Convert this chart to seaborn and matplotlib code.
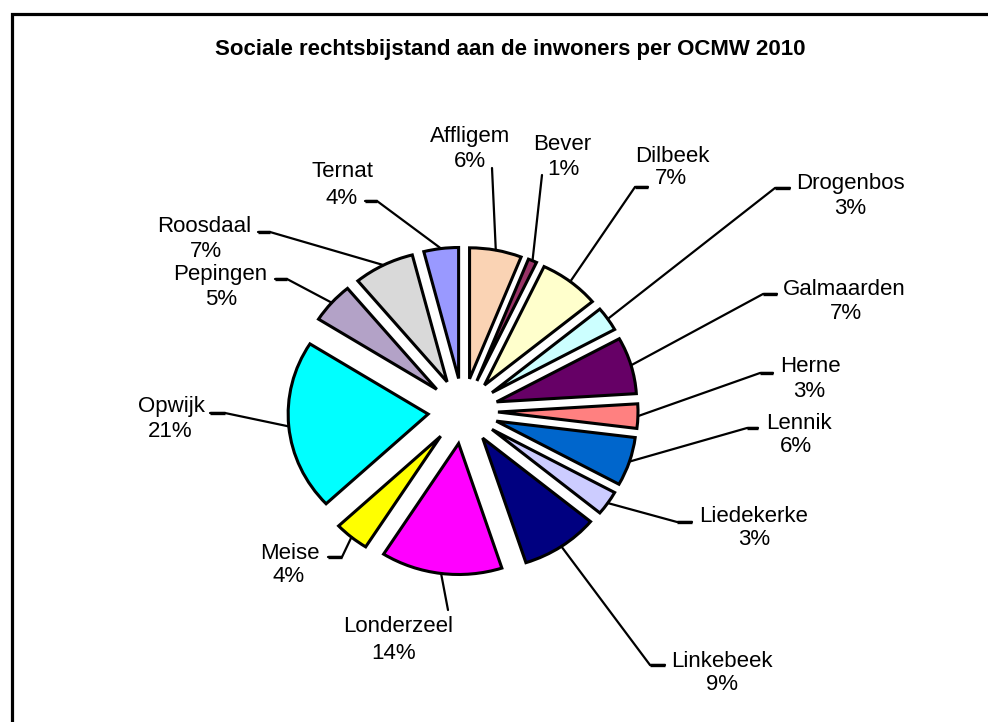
import numpy as np
import matplotlib
matplotlib.use("Agg")
import matplotlib.pyplot as plt
import matplotlib.transforms as mtransforms
from matplotlib.lines import Line2D
import seaborn as sns

# ---------------- data ----------------
gemeenten = ["Affligem", "Bever", "Dilbeek", "Drogenbos", "Galmaarden", "Herne",
             "Lennik", "Liedekerke", "Linkebeek", "Londerzeel", "Meise", "Opwijk",
             "Pepingen", "Roosdaal", "Ternat"]
percentages = [6, 1, 7, 3, 7, 3, 6, 3, 9, 14, 4, 21, 5, 7, 4]
kleuren = ["#FAD3B4", "#993366", "#FFFFCC", "#CCFFFF", "#660066", "#FF8080",
           "#0066CC", "#CCCCFF", "#000080", "#FF00FF", "#FFFF00", "#00FFFF",
           "#B3A2C7", "#D9D9D9", "#9999FF"]
titel = "Sociale rechtsbijstand aan de inwoners per OCMW 2010"

# ---------------- layout (pixel positions, top-left origin) ----------------
W, H = 988, 722
CX, CY = 463, 411          # pie centre
SX, SY = 140, 131          # pixels per unit radius (x, y)
name_pos = [(470, 135), (562, 143), (672, 155), (850, 182), (844, 288), (810, 365),
            (799, 422), (754, 515), (722, 660), (398, 625), (290, 552), (171, 405),
            (220, 273), (204, 225), (342, 170)]
pct_pos = [(470, 160), (563, 168), (671, 177), (850, 207), (846, 312), (809, 390),
           (796, 445), (754, 538), (722, 683), (394, 652), (289, 575), (170, 430),
           (221, 298), (206, 250), (342, 197)]
leader_pts = [[(492, 168)], [(542, 175)], [(635, 187), (648, 187)],
              [(775, 188), (790, 188)], [(763, 294), (777, 294)],
              [(760, 373), (773, 373)], [(747, 428), (758, 428)],
              [(677, 522), (692, 522)], [(650, 665), (665, 665)],
              [(448, 610)], [(342, 557), (328, 557)], [(225, 413), (210, 413)],
              [(287, 279), (275, 279)], [(270, 232), (258, 232)],
              [(377, 201), (365, 201)]]


def to_data(p):
    return ((p[0] - CX) / SX, (CY - p[1]) / SY)


sns.set_theme(style="white")
plt.rcParams["font.family"] = ["Liberation Sans", "DejaVu Sans"]

fig = plt.figure(figsize=(W / 100, H / 100), dpi=100)
fig.patch.set_facecolor("white")
ax = fig.add_axes([0, 0, 1, 1])

wedges, _ = ax.pie(percentages, colors=kleuren, explode=[0.25] * len(percentages),
                   startangle=90, counterclock=False, radius=1.0,
                   wedgeprops=dict(edgecolor="black", linewidth=2.2))
ax.set_aspect("auto")
ax.set_xlim(-CX / SX, (W - CX) / SX)
ax.set_ylim(-(H - CY) / SY, CY / SY)
ax.axis("off")

# leader lines and labels
for i, w in enumerate(wedges):
    ang = np.deg2rad((w.theta1 + w.theta2) / 2)
    cx, cy = w.center
    start = (cx + w.r * np.cos(ang), cy + w.r * np.sin(ang))
    pts = [start] + [to_data(p) for p in leader_pts[i]]
    xs, ys = zip(*pts)
    ax.add_line(Line2D(xs, ys, color="black", linewidth=1.6,
                       solid_joinstyle="miter", clip_on=False))
    if len(leader_pts[i]) > 1:
        hx, hy = zip(*[to_data(p) for p in leader_pts[i]])
        ax.add_line(Line2D(hx, hy, color="black", linewidth=2.4,
                           solid_capstyle="butt", clip_on=False))
    nx, ny = to_data((name_pos[i][0], name_pos[i][1] + 7))
    ax.text(nx, ny, gemeenten[i], ha="center", va="baseline", fontsize=16,
            color="black")
    px, py = to_data((pct_pos[i][0], pct_pos[i][1] + 7))
    ax.text(px, py, f"{percentages[i]}%", ha="center", va="baseline",
            fontsize=16, color="black")

# title and frame (pixel coordinates)
pix = mtransforms.Affine2D().scale(1 / W, -1 / H).translate(0, 1) + fig.transFigure
fig.text(510, 50, titel, transform=pix, ha="center", va="center",
         fontsize=16, fontweight="bold", color="black")
fig.add_artist(Line2D([12, 12, W + 5], [H + 5, 14, 14], transform=pix,
                      color="black", linewidth=2.3, solid_joinstyle="miter"))

fig.savefig("out.png", dpi=100, facecolor="white")
